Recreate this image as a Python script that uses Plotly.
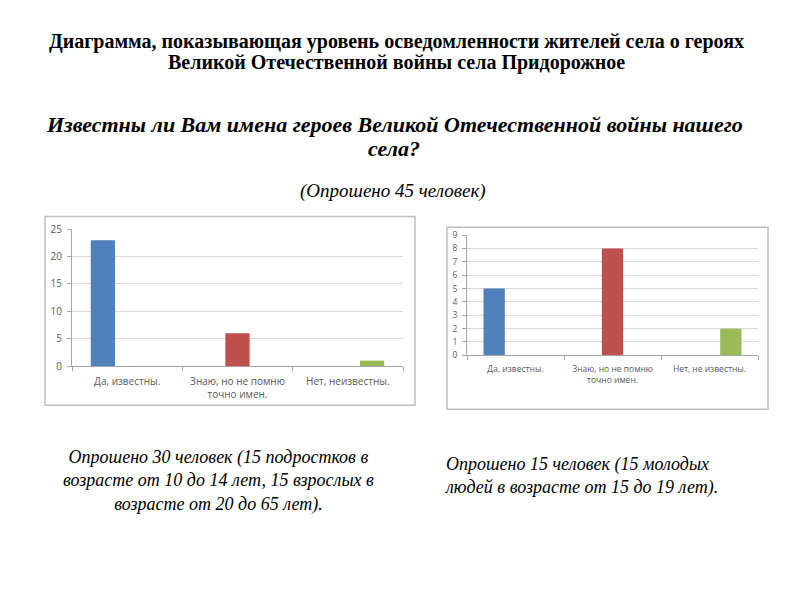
import plotly.graph_objects as go

# --- data ---
CATEGORIES_LEFT = ["Да, известны.", "Знаю, но не помню<br>точно имен.", "Нет, неизвестны."]
VALUES_LEFT = [23, 6, 1]

CATEGORIES_RIGHT = ["Да, известны.", "Знаю, но не помню<br>точно имен.", "Нет, не известны."]
VALUES_RIGHT = [5, 8, 2]

COLORS = ["#4F81BD", "#C0504D", "#9BBB59"]

TITLE_LINES = [
    "Диаграмма, показывающая уровень осведомленности жителей села о героях",
    "Великой Отечественной войны села Придорожное",
]
QUESTION_LINES = [
    "Известны ли Вам имена героев Великой Отечественной войны нашего",
    "села?",
]
SUBTITLE = "(Опрошено 45 человек)"
NOTE_LEFT = "Опрошено 30 человек (15 подростков в<br>возрасте от 10 до 14 лет, 15 взрослых в<br>возрасте от 20 до 65 лет)."
NOTE_RIGHT = "Опрошено 15 человек (15 молодых<br>людей в возрасте от 15 до 19 лет)."

SERIF = "Liberation Serif"
SANS = "Open Sans"
GRID = "#D9D9D9"
AXIS = "#A6A6A6"
TICK_TEXT = "#595959"

# the page body has an 8px margin, so the figure is 792x592 placed at (8, 8)
W, H, OFF = 792, 592, 8


def px(x):
    return (x - OFF) / W


def py(y):
    return 1 - (y - OFF) / H


fig = go.Figure()

# one trace per category so the bars sit in their own group slot (as in Excel)
for i, col in enumerate(COLORS):
    fig.add_trace(go.Bar(
        x=CATEGORIES_LEFT,
        y=[v if j == i else None for j, v in enumerate(VALUES_LEFT)],
        marker=dict(color=col, line=dict(width=0)),
        xaxis="x", yaxis="y", showlegend=False,
    ))
    fig.add_trace(go.Bar(
        x=CATEGORIES_RIGHT,
        y=[v if j == i else None for j, v in enumerate(VALUES_RIGHT)],
        marker=dict(color=col, line=dict(width=0)),
        xaxis="x2", yaxis="y2", showlegend=False,
    ))

xcommon = dict(
    type="category",
    showgrid=False,
    showline=True,
    linecolor=AXIS,
    linewidth=1,
    ticks="outside",
    tickson="boundaries",
    ticklen=4,
    tickcolor=AXIS,
    color=TICK_TEXT,
    fixedrange=True,
)
ycommon = dict(
    showgrid=True,
    gridcolor=GRID,
    showline=True,
    linecolor=AXIS,
    ticks="outside",
    ticklen=4,
    tickcolor=AXIS,
    color=TICK_TEXT,
    zeroline=False,
    fixedrange=True,
)

fig.update_layout(
    width=W,
    height=H,
    autosize=False,
    margin=dict(l=0, r=0, t=0, b=0),
    paper_bgcolor="white",
    plot_bgcolor="white",
    barmode="group",
    bargap=0.34,
    bargroupgap=0,
    xaxis=dict(xcommon, domain=[px(72), px(403)], anchor="y",
               ticklabelstandoff=6, tickfont=dict(family=SANS, size=10)),
    yaxis=dict(ycommon, domain=[py(367), py(227)], anchor="x",
               range=[0, 25], dtick=5, ticklabelstandoff=3,
               tickfont=dict(family=SANS, size=10)),
    xaxis2=dict(xcommon, domain=[px(467), px(758)], anchor="y2",
                ticklabelstandoff=5, tickfont=dict(family=SANS, size=8.5)),
    yaxis2=dict(ycommon, domain=[py(356), py(233)], anchor="x2",
                range=[0, 9], dtick=1, ticklabelstandoff=3,
                tickfont=dict(family=SANS, size=8.5)),
)

# chart frames
fig.add_shape(type="rect", xref="paper", yref="paper",
              x0=px(45), x1=px(415), y0=py(407), y1=py(214),
              line=dict(color="#BFBFBF", width=1.5))
fig.add_shape(type="rect", xref="paper", yref="paper",
              x0=px(447), x1=px(768), y0=py(411), y1=py(225),
              line=dict(color="#BFBFBF", width=1.5))


def text(t, x, y, size, xanchor="center", align="center"):
    fig.add_annotation(text=t, x=px(x), y=py(y), xref="paper", yref="paper",
                       showarrow=False, xanchor=xanchor, yanchor="middle",
                       align=align, font=dict(family=SERIF, size=size, color="black"))


text("<b>" + TITLE_LINES[0] + "</b>", 396, 35, 20)
text("<b>" + TITLE_LINES[1] + "</b>", 396, 57, 20)
text("<b><i>" + QUESTION_LINES[0] + "</i></b>", 394, 120, 22)
text("<b><i>" + QUESTION_LINES[1] + "</i></b>", 394, 145, 22)
text("<i>" + SUBTITLE + "</i>", 393, 188, 19)
text("<i>" + NOTE_LEFT + "</i>", 218, 484, 18)
text("<i>" + NOTE_RIGHT + "</i>", 443, 479, 18, xanchor="left", align="left")

fig.write_html("out.html")
